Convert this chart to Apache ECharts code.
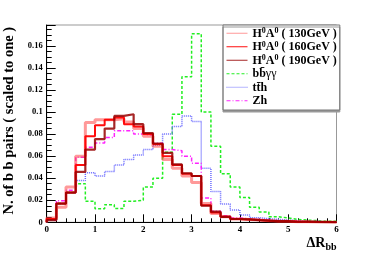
<!DOCTYPE html>
<html>
<head>
<meta charset="utf-8">
<script src="https://cdn.jsdelivr.net/npm/echarts@6.0.0/dist/echarts.min.js"></script>
<style>
html,body{margin:0;padding:0;background:#fff;}
#c{width:374px;height:253px;}
</style>
</head>
<body>
<div id="c"></div>
<script>
// Bin left edges (ΔR_bb), bin width 0.2, range 0..6
var binEdges = [0,0.2,0.4,0.6,0.8,1.0,1.2,1.4,1.6,1.8,2.0,2.2,2.4,2.6,2.8,3.0,3.2,3.4,3.6,3.8,4.0,4.2,4.4,4.6,4.8,5.0,5.2,5.4,5.6,5.8];
var xEnd = 6;

var seriesNames = ['H0A0_130','H0A0_160','H0A0_190','bbgg','tth','Zh'];
var legendLabels = {
  'H0A0_130': '{b|H}{s|0}{b|A}{s|0}{b| ( 130GeV )}',
  'H0A0_160': '{b|H}{s|0}{b|A}{s|0}{b| ( 160GeV )}',
  'H0A0_190': '{b|H}{s|0}{b|A}{s|0}{b| ( 190GeV )}',
  'bbgg': '{b|bb\u0304}{g|\u03b3\u03b3}',
  'tth': '{b|tt\u0304h}',
  'Zh': '{b|Zh}'
};

var h130 = [0.004,0.0136,0.032,0.060,0.0906,0.093,0.093,0.094,0.091,0.085,0.078,0.069,0.057,0.049,0.042,0.036,0.017,0.008,0.005,0.003,0.0025,0.002,0.0015,0.001,0.001,0.0005,0.0005,0.0003,0.0002,0.0001];
var h160 = [0.003,0.017,0.027,0.052,0.078,0.088,0.093,0.095,0.089,0.087,0.080,0.071,0.060,0.052,0.044,0.042,0.0155,0.009,0.005,0.003,0.0025,0.002,0.0015,0.001,0.001,0.0005,0.0005,0.0003,0.0002,0.0001];
var h190 = [0.002,0.017,0.027,0.0457,0.066,0.0755,0.085,0.0965,0.098,0.089,0.081,0.0715,0.063,0.0525,0.0445,0.042,0.015,0.0096,0.005,0.003,0.0027,0.002,0.0015,0.001,0.001,0.0005,0.0005,0.0003,0.0002,0.0001];
var bbgg = [0.002,0.017,0.027,0.035,0.019,0.0123,0.016,0.0126,0.019,0.020,0.032,0.040,0.0636,0.098,0.132,0.171,0.100,0.069,0.044,0.032,0.0224,0.0136,0.0094,0.005,0.004,0.0025,0.002,0.0015,0.001,0.001];
var tth = [0.002,0.017,0.027,0.038,0.045,0.042,0.046,0.052,0.057,0.061,0.066,0.070,0.080,0.087,0.0964,0.0915,0.049,0.028,0.0166,0.0112,0.0066,0.0042,0.0033,0.0027,0.002,0.0015,0.001,0.001,0.0005,0.0005];
var zh = [0.002,0.0196,0.029,0.059,0.068,0.072,0.077,0.083,0.083,0.080,0.079,0.0718,0.066,0.065,0.060,0.0536,0.022,0.010,0.006,0.004,0.003,0.0025,0.002,0.0015,0.001,0.001,0.0005,0.0005,0.0003,0.0003];

var yTickStep = 0.02;

function steps(vals){
  var d = [[binEdges[0], 0]];
  for (var i=0;i<binEdges.length;i++) d.push([binEdges[i], vals[i]]);
  d.push([xEnd, vals[vals.length-1]]);
  return d;
}

var serif = 'Liberation Serif';
function mk(name, vals, color, width, type, z){
  return {
    name: name, type: 'line', step: 'end', symbol: 'none', z: z,
    data: steps(vals),
    lineStyle: {color: color, width: width, type: type},
    itemStyle: {color: color},
    emphasis: {disabled: true}, animation: false
  };
}

var chart = echarts.init(document.getElementById('c'), null, {renderer:'canvas'});
chart.setOption({
  animation: false,
  backgroundColor: '#fff',
  grid: {left: 46.7, right: 37.5, top: 25, bottom: 30.7, show: true, borderColor: '#999', borderWidth: 1, outerBoundsMode: 'none', containLabel: false},
  legend: {
    orient: 'vertical', left: 223, top: 25, width: 113,
    padding: [2, 3, 3, 3], itemGap: 1, itemWidth: 21, itemHeight: 8,
    backgroundColor: '#fff', borderColor: '#777', borderWidth: 1,
    shadowColor: '#999', shadowOffsetY: 2, shadowOffsetX: 0, shadowBlur: 0,
    itemStyle: {opacity: 0},
    lineStyle: {width: 1},
    data: seriesNames,
    formatter: function(n){ return legendLabels[n]; },
    textStyle: {
      color: '#000', fontFamily: serif, fontWeight: 'bold', fontSize: 12, lineHeight: 12.5,
      rich: {
        b: {fontFamily: serif, fontWeight: 'bold', fontSize: 12, lineHeight: 12.5, verticalAlign: 'bottom', color:'#000'},
        s: {fontFamily: serif, fontWeight: 'bold', fontSize: 8, verticalAlign: 'top', color:'#000'},
        g: {fontFamily: serif, fontWeight: 'normal', fontSize: 12, lineHeight: 12.5, verticalAlign: 'bottom', color:'#000'}
      }
    }
  },
  xAxis: {
    type: 'value', min: 0, max: xEnd, interval: 1,
    axisLine: {lineStyle: {color: '#000', width: 1}},
    axisTick: {inside: true, length: 8, lineStyle: {color: '#000'}},
    minorTick: {show: true, splitNumber: 5, length: 4, lineStyle: {color: '#000'}},
    splitLine: {show: false},
    axisLabel: {color: '#000', fontFamily: serif, fontWeight: 'bold', fontSize: 9, margin: 3},
    name: '{a|\u0394R}{s|bb}', nameLocation: 'end', nameGap: 0,
    nameTextStyle: {
      align: 'right', verticalAlign: 'top', padding: [14, 0, 0, 0],
      rich: {
        a: {fontFamily: serif, fontWeight: 'bold', fontSize: 14, color: '#000', lineHeight: 16, verticalAlign: 'top'},
        s: {fontFamily: serif, fontWeight: 'bold', fontSize: 10, color: '#000', verticalAlign: 'bottom', lineHeight: 10}
      }
    }
  },
  yAxis: {
    type: 'value', min: 0, max: 0.179, interval: yTickStep,
    axisLine: {show: true, lineStyle: {color: '#000', width: 1}},
    axisTick: {show: true, inside: true, length: 9, lineStyle: {color: '#000'}},
    minorTick: {show: true, splitNumber: 4, length: 5, lineStyle: {color: '#000'}},
    splitLine: {show: false},
    axisLabel: {
      color: '#000', fontFamily: serif, fontWeight: 'bold', fontSize: 8.5, margin: 4,
      formatter: function(v){
        var k = Math.round(v / yTickStep);
        if (Math.abs(k * yTickStep - v) > 1e-9) return '';
        return String(+(k * yTickStep).toFixed(2));
      }
    },
    name: 'N. of b b pairs ( scaled to one )', nameLocation: 'middle', nameGap: 23, nameRotate: 90,
    nameTextStyle: {fontFamily: serif, fontWeight: 'bold', fontSize: 14.5, color: '#000', padding: [0, 0, 0, 6]}
  },
  series: [
    mk('H0A0_130', h130, 'rgba(255,70,70,0.55)', 3, 'solid', 3),
    mk('H0A0_160', h160, 'rgba(255,0,0,0.95)', 2, 'solid', 4),
    mk('H0A0_190', h190, 'rgba(150,0,0,0.85)', 2.2, 'solid', 5),
    mk('bbgg', bbgg, '#22ee22', 1.5, [3, 2], 2),
    mk('tth', tth, '#6b6bff', 1.5, [1, 1], 2),
    mk('Zh', zh, '#ff22ff', 1.5, [4, 2, 1, 2], 2)
  ]
});
</script>
</body>
</html>
